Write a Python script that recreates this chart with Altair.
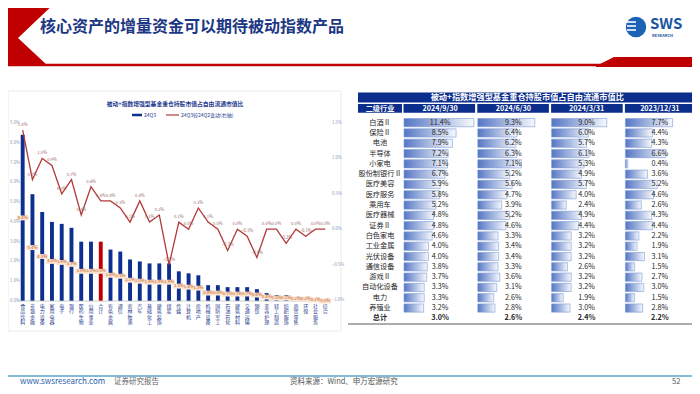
import altair as alt
import pandas as pd

# ---------------- data ----------------
sector_names = ["食品饮料", "非银金融", "电力设备", "家用电器", "电子", "银行", "医药生物", "公用事业",
                "合计", "有色金属", "通信", "农林牧渔", "汽车", "基础化工", "建筑装饰", "煤炭",
                "传媒", "计算机", "房地产", "机械设备", "国防军工", "石油石化", "建筑材料", "交通运输",
                "钢铁", "美容护理", "轻工制造", "纺织服饰", "商贸零售", "环保", "社会服务", "综合"]
ratio_24q3 = [8.4, 5.4, 4.5, 4.0, 3.9, 3.7, 3.0, 3.0, 3.0, 2.6, 2.5, 2.1, 2.0, 1.9, 1.9, 1.9,
              1.5, 1.4, 1.3, 0.8, 0.8, 0.7, 0.7, 0.7, 0.6, 0.4, 0.3, 0.3, 0.2, 0.2, 0.1, 0.0]
change_vs_24q2 = [1.4, 0.7, 1.0, 0.9, 0.5, 0.7, 0.2, 0.6, 0.4, 0.4, 0.3, 0.1, 0.4, 0.1, 0.2, -0.5,
                  0.1, 0.0, 0.3, 0.1, 0.0, -0.3, 0.0, -0.1, -0.4, 0.0, 0.0, -0.2, 0.0, -0.1, 0.0, 0.0]
highlight_name = "合计"
left_ticks = [0, 1, 2, 3, 4, 5, 6, 7, 8, 9]
right_ticks = [-1.0, -0.5, 0.0, 0.5, 1.0, 1.5]

table_rows = ["白酒Ⅱ", "保险Ⅱ", "电池", "半导体", "小家电", "股份制银行Ⅱ", "医疗美容", "医疗服务", "乘用车",
              "医疗器械", "证券Ⅱ", "白色家电", "工业金属", "光伏设备", "通信设备", "游戏Ⅱ", "自动化设备",
              "电力", "养殖业", "总计"]
table_periods = ["2024/9/30", "2024/6/30", "2024/3/31", "2023/12/31"]
val_2024_09 = [11.4, 8.5, 7.9, 7.2, 7.1, 6.7, 5.9, 5.8, 5.2, 4.8, 4.8, 4.6, 4.0, 4.0, 3.8, 3.7, 3.3, 3.3, 3.2, 3.0]
val_2024_06 = [9.3, 6.4, 6.2, 6.3, 7.1, 5.2, 5.6, 4.7, 3.9, 5.2, 4.6, 3.3, 3.4, 3.4, 3.3, 3.6, 3.1, 2.6, 2.8, 2.6]
val_2024_03 = [9.0, 6.0, 5.7, 6.1, 5.3, 4.9, 5.7, 4.0, 2.4, 4.9, 4.4, 3.2, 3.2, 3.2, 2.6, 3.2, 3.2, 1.9, 3.0, 2.4]
val_2023_12 = [7.7, 4.4, 4.3, 6.6, 0.4, 3.6, 5.2, 4.6, 2.6, 4.3, 4.4, 2.2, 1.9, 3.1, 1.5, 2.7, 3.0, 1.5, 2.8, 2.2]
table_values = [val_2024_09, val_2024_06, val_2024_03, val_2023_12]

slide_title = "核心资产的增量资金可以期待被动指数产品"
chart_title = "被动+指数增强型基金重仓持股市值占自由流通市值比"
table_title = "被动+指数增强型基金重仓持股市值占自由流通市值比"
legend_bar = "24Q3"
legend_line = "24Q3较24Q2变动(右轴)"

# ---------------- layout / style ----------------
FONT = "Noto Sans CJK SC"
NAVY = "#0b2d8c"
BAR_BLUE = "#0d2f8f"
RED = "#c00000"
LINE_RED = "#b23a3a"
W, H = 684, 378


def px(x):
    return x - 8


def py(y):
    return y - 8


def txt(s, x, y, size=8, color="#333", weight="normal", align="left", baseline="middle"):
    return alt.Chart(pd.DataFrame({"t": [s]})).mark_text(
        font=FONT, fontSize=size, color=color, fontWeight=weight, align=align, baseline=baseline
    ).encode(x=alt.value(px(x)), y=alt.value(py(y)), text="t:N")


def rule(x1, y1, x2, y2, color, width=1.0):
    return alt.Chart(pd.DataFrame({"a": [0]})).mark_rule(color=color, strokeWidth=width).encode(
        x=alt.value(px(x1)), x2=alt.value(px(x2)), y=alt.value(py(y1)), y2=alt.value(py(y2)))


def box(x1, y1, x2, y2, fill, stroke=None):
    kw = dict(fill=fill)
    if stroke:
        kw.update(stroke=stroke, strokeWidth=0.8)
    return alt.Chart(pd.DataFrame({"a": [0]})).mark_rect(**kw).encode(
        x=alt.value(px(x1)), x2=alt.value(px(x2)), y=alt.value(py(y1)), y2=alt.value(py(y2)))


layers = []

# ---------- header ----------
chev = pd.DataFrame({"yy": [py(0), py(38), py(66)], "xl": [px(0)] * 3, "xr": [px(58), px(18), px(48)]})
layers.append(alt.Chart(chev).mark_area(orient="horizontal", color=RED).encode(
    y=alt.Y("yy:Q", scale=None), x=alt.X("xl:Q", scale=None), x2="xr:Q"))
layers.append(rule(0, 65, 700, 65, RED, 2.5))
trap = pd.DataFrame({"xx": [px(596), px(614), px(700)], "yt": [py(66), py(57), py(57)], "yb": [py(67)] * 3})
layers.append(alt.Chart(trap).mark_area(orient="vertical", color=RED).encode(
    x=alt.X("xx:Q", scale=None), y=alt.Y("yt:Q", scale=None), y2="yb:Q"))
layers.append(txt(slide_title, 40, 27, size=16, color="#1c3783", weight="bold"))
# logo
layers.append(alt.Chart(pd.DataFrame({"a": [0]})).mark_point(
    shape="circle", filled=True, size=420, color="#1a63b5", opacity=1).encode(
    x=alt.value(px(636)), y=alt.value(py(27))))
for yy in [22, 26, 30]:
    layers.append(rule(627, yy, 636, yy, "white", 1.6))
layers.append(txt("SWS", 650, 24, size=15, color="#1a55a6", weight="bold"))
layers.append(txt("RESEARCH", 652, 36, size=4, color="#1a55a6", weight="bold"))

# ---------- left chart ----------
left_df = pd.DataFrame({"name": sector_names, "v": ratio_24q3, "chg": change_vs_24q2})
xs = alt.Scale(domain=sector_names, range=[px(17.8), px(330.1)], paddingInner=0.6, paddingOuter=0.3)
yl = alt.Scale(domain=[0, 9], range=[py(301), py(123)], nice=False, zero=True)
yr = alt.Scale(domain=[-1.0, 1.5], range=[py(300), py(123)], nice=False, zero=False)
X = alt.X("name:N", scale=xs, axis=None)

layers.append(box(8, 91, 341, 331, "white", "#e6e6e6"))
layers.append(txt(chart_title, 175, 104, size=5.8, color="#1f3b8f", weight="bold", align="center"))
layers.append(rule(132, 115, 142, 115, BAR_BLUE, 2.5))
layers.append(txt(legend_bar, 144, 115, size=5, color="#1f3b8f"))
layers.append(rule(166, 115, 179, 115, LINE_RED, 1.2))
layers.append(txt(legend_line, 181, 115, size=5, color="#1f3b8f"))

layers.append(alt.Chart(left_df).mark_bar().encode(
    x=X, y=alt.Y("v:Q", scale=yl, axis=None),
    color=alt.condition(alt.datum.name == highlight_name, alt.value(RED), alt.value(BAR_BLUE))))
layers.append(rule(18, 301, 331, 301, "#bfbfbf", 0.8))
lab_base = alt.Chart(left_df).transform_calculate(
    mid="datum.v / 2", t="format(datum.v, '.1f') + '%'")
layers.append(lab_base.mark_point(shape="M-1,-0.4L1,-0.4L1,0.4L-1,0.4Z", filled=True, size=150,
                                  color="#fbe3d2", opacity=1).encode(
    x=X, y=alt.Y("mid:Q", scale=yl, axis=None)))
layers.append(lab_base.mark_text(font=FONT, fontSize=4.2, color="#c05a1a").encode(
    x=X, y=alt.Y("mid:Q", scale=yl, axis=None), text="t:N"))
layers.append(alt.Chart(left_df).mark_line(color=LINE_RED, strokeWidth=1.3).encode(
    x=X, y=alt.Y("chg:Q", scale=yr, axis=None)))
layers.append(alt.Chart(left_df).transform_calculate(
    t="format(datum.chg, '.1f') + '%'").mark_text(font=FONT, fontSize=4.2, color="#9a6a6a", dy=-5).encode(
    x=X, y=alt.Y("chg:Q", scale=yr, axis=None), text="t:N"))
# vertical (stacked-character) category labels
layers.append(alt.Chart(left_df).transform_calculate(
    chars="split(datum.name, '')").mark_text(
    font=FONT, fontSize=5, lineHeight=5.4, baseline="top", color="#1f3b8f").encode(
    x=X, y=alt.value(py(304)), text=alt.Text("chars:N")))
lt = pd.DataFrame({"v": left_ticks})
layers.append(alt.Chart(lt).transform_calculate(t="format(datum.v, '.1f') + '%'").mark_text(
    font=FONT, fontSize=4.3, color="#8a9ab5", align="right").encode(
    x=alt.value(px(20)), y=alt.Y("v:Q", scale=yl, axis=None), text="t:N"))
rt = pd.DataFrame({"v": right_ticks})
layers.append(alt.Chart(rt).transform_calculate(t="format(datum.v, '.1f') + '%'").mark_text(
    font=FONT, fontSize=4.3, color="#8a9ab5", align="left").encode(
    x=alt.value(px(332)), y=alt.Y("v:Q", scale=yr, axis=None), text="t:N"))

# ---------- table ----------
T_L, C0_R, T_R = 358, 402, 696.5
pin = 0.03
step = (T_R - 403.5) / (4 - pin)
bw = step * (1 - pin)
col_left = [403.5 + i * step for i in range(4)]
xp = alt.Scale(domain=table_periods, range=[px(403.5), px(T_R)], paddingInner=pin, paddingOuter=0)
yrow = alt.Scale(domain=table_rows, range=[py(117.5), py(323.5)], paddingInner=0.2, paddingOuter=0.1)

layers.append(box(T_L, 92.5, T_R, 102.5, NAVY))
layers.append(txt(table_title, (T_L + T_R) / 2, 97.8, size=8.2, color="white", weight="bold", align="center"))
layers.append(box(T_L, 104, C0_R, 112.8, NAVY))
layers.append(txt("二级行业", (T_L + C0_R) / 2, 108.5, size=7.2, color="white", weight="bold", align="center"))
hdr = pd.DataFrame({"p": table_periods})
layers.append(alt.Chart(hdr).mark_bar(color=NAVY).encode(
    x=alt.X("p:N", scale=xp, axis=None), y=alt.value(py(104)), y2=alt.value(py(112.8))))
layers.append(alt.Chart(hdr).mark_text(font=FONT, fontSize=7.2, color="white", fontWeight="bold").encode(
    x=alt.X("p:N", scale=xp, axis=None), y=alt.value(py(108.5)), text="p:N"))

grad = alt.Gradient(gradient="linear", stops=[alt.GradientStop(color="#5476c4", offset=0),
                                              alt.GradientStop(color="#f7f9fd", offset=1)],
                    x1=0, x2=1, y1=0, y2=0)
for j, per in enumerate(table_periods):
    dfc = pd.DataFrame({"row": table_rows[:-1], "v": table_values[j][:-1]})
    xsc = alt.Scale(domain=[0, 11.6], range=[px(col_left[j] + 0.5), px(col_left[j] + bw)], nice=False)
    layers.append(alt.Chart(dfc).mark_bar(fill=grad, stroke="#7d9ad6", strokeWidth=0.6).encode(
        x=alt.X("v:Q", scale=xsc, axis=None), y=alt.Y("row:N", scale=yrow, axis=None)))

long = pd.DataFrame([{"row": r, "p": p, "v": table_values[j][i]}
                     for j, p in enumerate(table_periods) for i, r in enumerate(table_rows)])
body = long[long.row != "总计"]
tot = long[long.row == "总计"]
layers.append(alt.Chart(body).transform_calculate(t="format(datum.v, '.1f') + '%'").mark_text(
    font=FONT, fontSize=7.2, color="#262626").encode(
    x=alt.X("p:N", scale=xp, axis=None), y=alt.Y("row:N", scale=yrow, axis=None), text="t:N"))
layers.append(alt.Chart(tot).transform_calculate(t="format(datum.v, '.1f') + '%'").mark_text(
    font=FONT, fontSize=7.2, color="#262626", fontWeight="bold").encode(
    x=alt.X("p:N", scale=xp, axis=None), y=alt.Y("row:N", scale=yrow, axis=None), text="t:N"))
rows_df = pd.DataFrame({"row": table_rows})
layers.append(alt.Chart(rows_df[rows_df.row != "总计"]).mark_text(
    font=FONT, fontSize=7.2, color="#262626").encode(
    x=alt.value(px((T_L + C0_R) / 2)), y=alt.Y("row:N", scale=yrow, axis=None), text="row:N"))
layers.append(alt.Chart(rows_df[rows_df.row == "总计"]).mark_text(
    font=FONT, fontSize=7.2, color="#262626", fontWeight="bold").encode(
    x=alt.value(px((T_L + C0_R) / 2)), y=alt.Y("row:N", scale=yrow, axis=None), text="row:N"))
layers.append(rule(348, 324, T_R, 324, "#595959", 1.0))

# ---------- footer ----------
layers.append(rule(0, 376, 700, 376, "#5aa5c8", 1.5))
layers.append(txt("www.swsresearch.com", 20, 381.5, size=8, color="#2a5caa"))
layers.append(txt("证券研究报告", 114, 381.5, size=7.5, color="#666666"))
layers.append(txt("资料来源：Wind、申万宏源研究", 290, 381.5, size=7.5, color="#555555"))
layers.append(txt("52", 672, 381.5, size=7.5, color="#555555"))

chart = alt.layer(*layers).resolve_scale(x="independent", y="independent").properties(
    width=W, height=H, padding=0, autosize="none", background="white"
).configure_view(stroke=None)

chart.save("out.html", embed_options={"renderer": "svg", "actions": False})
